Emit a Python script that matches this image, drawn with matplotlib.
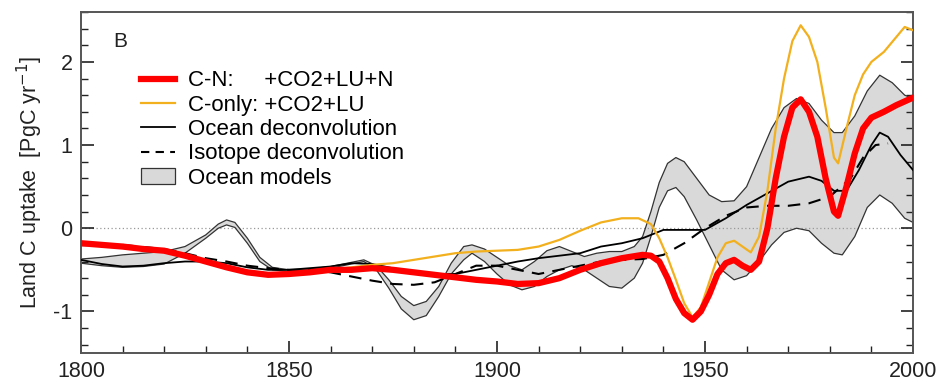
import matplotlib
matplotlib.use("Agg")
import matplotlib.pyplot as plt
from matplotlib.lines import Line2D
from matplotlib.patches import Patch
from matplotlib.ticker import MultipleLocator

plt.rcParams['font.family'] = ['Liberation Sans', 'DejaVu Sans']
plt.rcParams['axes.unicode_minus'] = False

# C-N model: +CO2+LU+N
cn_years = [1800, 1805, 1810, 1815, 1820, 1825, 1830, 1835, 1840, 1845, 1850, 1855, 1860, 1865,
            1870, 1875, 1880, 1885, 1890, 1895, 1900, 1905, 1910, 1915, 1920, 1925, 1930, 1935,
            1937, 1939, 1941, 1943, 1945, 1947, 1949, 1951, 1953, 1955, 1957, 1959, 1961, 1963,
            1965, 1967, 1969, 1971, 1973, 1975, 1977, 1979, 1981, 1982, 1984, 1986, 1988, 1990,
            1993, 1996, 2000]
cn_vals = [-0.18, -0.20, -0.22, -0.25, -0.27, -0.33, -0.40, -0.47, -0.53, -0.56, -0.55, -0.53, -0.50, -0.50,
           -0.48, -0.50, -0.53, -0.56, -0.59, -0.62, -0.64, -0.67, -0.66, -0.60, -0.50, -0.42, -0.36, -0.32,
           -0.33, -0.40, -0.60, -0.85, -1.02, -1.10, -1.00, -0.80, -0.55, -0.42, -0.38, -0.45, -0.50, -0.40,
           0.00, 0.60, 1.10, 1.45, 1.55, 1.40, 1.10, 0.60, 0.20, 0.15, 0.50, 0.90, 1.20, 1.33,
           1.40, 1.48, 1.57]

# C-only model: +CO2+LU
co_years = [1800, 1805, 1810, 1815, 1820, 1825, 1830, 1835, 1840, 1845, 1850, 1855, 1860, 1865,
            1870, 1875, 1880, 1885, 1890, 1895, 1900, 1905, 1910, 1915, 1920, 1925, 1930, 1934,
            1937, 1939, 1941, 1943, 1945, 1947, 1949, 1951, 1953, 1955, 1957, 1959, 1961, 1963,
            1965, 1967, 1969, 1971, 1973, 1975, 1977, 1979, 1981, 1982, 1984, 1986, 1988, 1990,
            1993, 1996, 1998, 2000]
co_vals = [-0.18, -0.20, -0.22, -0.25, -0.27, -0.33, -0.40, -0.47, -0.53, -0.55, -0.54, -0.52, -0.50, -0.47,
           -0.44, -0.42, -0.38, -0.34, -0.30, -0.28, -0.27, -0.26, -0.22, -0.14, -0.03, 0.07, 0.12, 0.12,
           0.05, -0.12, -0.35, -0.62, -0.90, -1.07, -0.95, -0.65, -0.35, -0.18, -0.15, -0.22, -0.29, -0.10,
           0.45, 1.20, 1.80, 2.25, 2.44, 2.30, 2.00, 1.45, 0.85, 0.78, 1.20, 1.60, 1.85, 2.00,
           2.12, 2.30, 2.42, 2.38]

# Ocean deconvolution
od_years = [1800, 1805, 1810, 1815, 1820, 1825, 1830, 1835, 1840, 1845, 1850, 1855, 1860, 1865,
            1870, 1875, 1880, 1885, 1890, 1895, 1900, 1905, 1910, 1915, 1920, 1925, 1930, 1935,
            1940, 1945, 1950, 1955, 1960, 1965, 1970, 1975, 1978, 1981, 1984, 1987, 1990, 1992,
            1994, 1997, 2000]
od_vals = [-0.38, -0.43, -0.46, -0.45, -0.42, -0.40, -0.40, -0.42, -0.47, -0.50, -0.50, -0.48, -0.46, -0.42,
           -0.43, -0.48, -0.52, -0.55, -0.55, -0.50, -0.45, -0.40, -0.36, -0.33, -0.30, -0.22, -0.18, -0.12,
           -0.02, -0.02, -0.02, 0.12, 0.28, 0.42, 0.56, 0.62, 0.57, 0.45, 0.45, 0.70, 1.00, 1.15,
           1.10, 0.88, 0.70]

# Isotope deconvolution
id_years = [1800, 1810, 1820, 1825, 1830, 1835, 1840, 1845, 1850, 1855, 1860, 1865, 1870, 1875,
            1880, 1885, 1890, 1895, 1900, 1905, 1910, 1915, 1920, 1925, 1930, 1935, 1940, 1945,
            1950, 1955, 1960, 1965, 1970, 1975, 1980, 1985, 1988, 1991, 1994]
id_vals = [-0.18, -0.20, -0.25, -0.30, -0.36, -0.40, -0.45, -0.48, -0.50, -0.50, -0.53, -0.58, -0.63, -0.67,
           -0.68, -0.65, -0.55, -0.45, -0.45, -0.50, -0.55, -0.50, -0.45, -0.40, -0.38, -0.37, -0.32, -0.18,
           0.00, 0.15, 0.25, 0.27, 0.27, 0.30, 0.38, 0.60, 0.85, 1.00, 1.02]

# Ocean models range
om_years = [1800, 1805, 1810, 1815, 1820, 1825, 1830, 1833, 1835, 1837, 1840, 1843, 1846, 1850,
            1855, 1860, 1865, 1868, 1871, 1874, 1877, 1880, 1883, 1886, 1889, 1892, 1894, 1897,
            1900, 1903, 1906, 1909, 1912, 1915, 1918, 1921, 1924, 1927, 1930, 1933, 1935, 1937,
            1939, 1941, 1943, 1945, 1948, 1951, 1954, 1957, 1960, 1963, 1966, 1969, 1972, 1975,
            1978, 1981, 1983, 1986, 1989, 1992, 1995, 1998, 2000]
om_upper = [-0.37, -0.35, -0.32, -0.30, -0.28, -0.22, -0.08, 0.05, 0.10, 0.07, -0.12, -0.35, -0.47, -0.50,
            -0.49, -0.46, -0.41, -0.38, -0.45, -0.62, -0.82, -0.93, -0.88, -0.70, -0.42, -0.22, -0.20, -0.25,
            -0.35, -0.45, -0.50, -0.40, -0.27, -0.22, -0.28, -0.34, -0.30, -0.28, -0.28, -0.22, -0.10, 0.20,
            0.55, 0.78, 0.85, 0.80, 0.60, 0.40, 0.32, 0.33, 0.50, 0.85, 1.20, 1.45, 1.56, 1.50,
            1.30, 1.15, 1.15, 1.35, 1.65, 1.84, 1.75, 1.60, 1.56]
om_lower = [-0.42, -0.45, -0.47, -0.46, -0.43, -0.30, -0.12, 0.00, 0.04, 0.01, -0.18, -0.40, -0.50, -0.52,
            -0.50, -0.48, -0.43, -0.40, -0.50, -0.72, -0.97, -1.10, -1.05, -0.82, -0.55, -0.38, -0.30, -0.40,
            -0.55, -0.68, -0.74, -0.70, -0.58, -0.50, -0.45, -0.50, -0.60, -0.70, -0.72, -0.60, -0.42, -0.10,
            0.25, 0.45, 0.49, 0.38, 0.10, -0.20, -0.50, -0.62, -0.57, -0.40, -0.20, -0.05, 0.00, -0.03,
            -0.18, -0.30, -0.32, -0.10, 0.25, 0.40, 0.30, 0.12, 0.07]

legend_labels = ["C-N:     +CO2+LU+N", "C-only: +CO2+LU", "Ocean deconvolution",
                 "Isotope deconvolution", "Ocean models"]

fig = plt.figure(figsize=(9.37, 3.83), dpi=100)
ax = fig.add_axes([0.0864, 0.0783, 0.888, 0.8904])

ax.fill_between(om_years, om_lower, om_upper, facecolor='#d9d9d9', edgecolor='none', zorder=1)
ax.plot(om_years, om_upper, color='#333333', lw=0.9, zorder=2)
ax.plot(om_years, om_lower, color='#333333', lw=0.9, zorder=2)
ax.axhline(0, color='#999999', lw=0.9, ls=(0, (1, 2)), zorder=1.5)

ax.plot(id_years, id_vals, color='black', lw=1.5, ls=(0, (6, 4)), zorder=3)
ax.plot(od_years, od_vals, color='black', lw=1.3, zorder=3)
ax.plot(co_years, co_vals, color='#f2b01e', lw=1.6, zorder=4, solid_joinstyle='round')
ax.plot(cn_years, cn_vals, color='#ff0000', lw=4.5, zorder=5, solid_joinstyle='round',
        solid_capstyle='round')

ax.set_xlim(1800, 2000)
ax.set_ylim(-1.5, 2.6)
ax.xaxis.set_major_locator(MultipleLocator(50))
ax.xaxis.set_minor_locator(MultipleLocator(10))
ax.yaxis.set_major_locator(MultipleLocator(1))
ax.yaxis.set_minor_locator(MultipleLocator(0.2))
ax.tick_params(which='both', direction='in', top=False, right=True, labelsize=15.5,
               colors='#222222')
ax.tick_params(which='major', length=9, width=1.2)
ax.tick_params(which='minor', length=5, width=1.0)
ax.tick_params(axis='x', pad=6)
ax.tick_params(axis='y', pad=6)
for s in ax.spines.values():
    s.set_linewidth(1.4)
    s.set_color('#555555')

ax.set_ylabel("Land C uptake  [PgC yr$^{-1}$]", fontsize=15.5, color='#222222', labelpad=6)
ax.text(1809.5, 2.25, "B", fontsize=15, ha='center', va='center', color='#222222')

handles = [Line2D([0], [0], color='#ff0000', lw=4.5),
           Line2D([0], [0], color='#f2b01e', lw=1.6),
           Line2D([0], [0], color='black', lw=1.3),
           Line2D([0], [0], color='black', lw=1.5, ls=(0, (4, 3))),
           Patch(facecolor='#d9d9d9', edgecolor='#333333', lw=0.9)]
ax.legend(handles, legend_labels, loc='upper left', bbox_to_anchor=(0.062, 0.855),
          frameon=False, fontsize=16, handlelength=1.5, handletextpad=0.6,
          labelspacing=0.15, borderaxespad=0)

fig.savefig("out.png", dpi=100)
